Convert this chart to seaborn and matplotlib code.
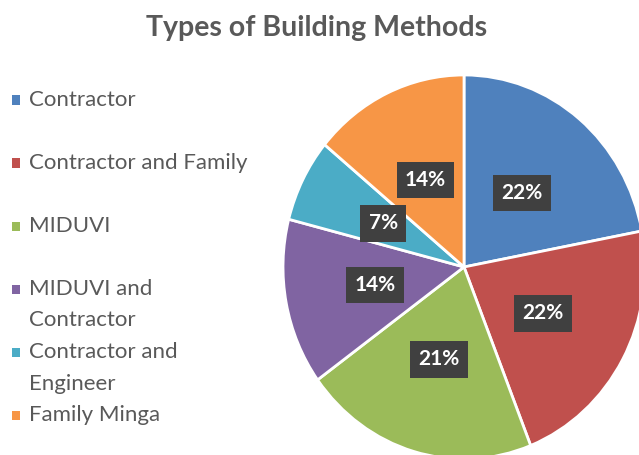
import seaborn as sns
import matplotlib.pyplot as plt
from matplotlib.patches import Rectangle

# data
methods = ["Contractor", "Contractor and Family", "MIDUVI",
           "MIDUVI and\nContractor", "Contractor and\nEngineer", "Family Minga"]
shares = [22, 22, 21, 14, 7, 14]
colours = ["#4F81BD", "#C0504D", "#9BBB59", "#8064A2", "#4BACC6", "#F79646"]

sns.set_theme(style="white")
plt.rcParams['font.family'] = ['Lato', 'DejaVu Sans']

fig = plt.figure(figsize=(6.39, 4.55), dpi=100)

# pie slightly taller than wide, like the reference
ax = fig.add_axes([0.4429, -0.0088, 0.5665, 0.844])
wedges, texts, autotexts = ax.pie(
    shares, colors=sns.color_palette(colours), startangle=90, counterclock=False,
    autopct=lambda p: f"{p:.0f}%", pctdistance=0.5,
    wedgeprops=dict(edgecolor="white", linewidth=2),
    textprops=dict(color="white", fontsize=15, fontweight="bold"))
for t in autotexts:
    t.set_bbox(dict(boxstyle="square,pad=0.4", facecolor="#404040", edgecolor="none"))
ax.set_aspect("auto")
ax.set_xlim(-1, 1)
ax.set_ylim(-1, 1)
ax.axis("off")

fig.text(0.496, 0.938, "Types of Building Methods", ha="center", va="center",
         fontsize=20.5, fontweight="bold", color="#595959")

# legend: each entry takes two text lines
line_h = 31.5 / 455
y = 1 - 100 / 455
for name, c in zip(methods, colours):
    fig.patches.append(Rectangle((12 / 639, y - 4.5 / 455), 8 / 639, 9 / 455,
                                 transform=fig.transFigure, facecolor=c, edgecolor="none"))
    fig.text(29 / 639, y, name.split("\n")[0], ha="left", va="center",
             fontsize=16, color="#595959")
    if "\n" in name:
        fig.text(29 / 639, y - line_h, name.split("\n")[1], ha="left", va="center",
                 fontsize=16, color="#595959")
    y -= 2 * line_h

fig.savefig("out.png", dpi=100)
